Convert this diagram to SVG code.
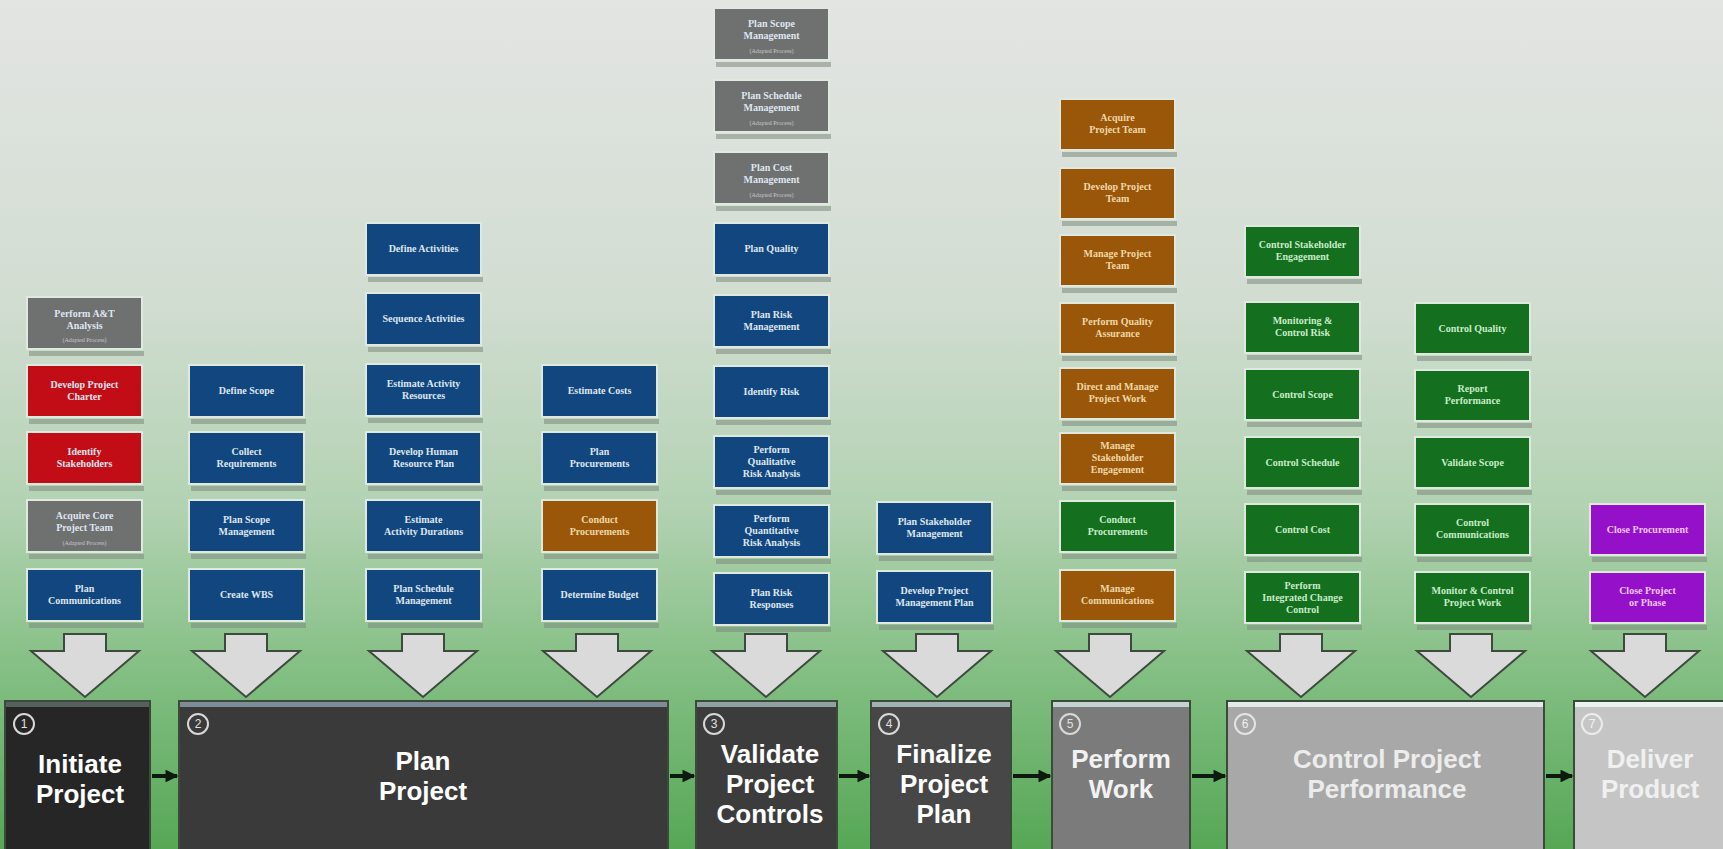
<svg xmlns="http://www.w3.org/2000/svg" width="1723" height="849" viewBox="0 0 1723 849">
<defs>
<linearGradient id="bg" x1="0" y1="0" x2="0" y2="1">
<stop offset="0" stop-color="#e3e5e3"/>
<stop offset="0.35" stop-color="#d2ddd2"/>
<stop offset="0.6" stop-color="#b2d2b2"/>
<stop offset="0.78" stop-color="#86c086"/>
<stop offset="1" stop-color="#56a756"/>
</linearGradient>
<path id="bigarrow" d="M -21 634 L 21 634 L 21 651 L 54 651 L 0 697 L -54 651 L -21 651 Z"/>
<marker id="ah" viewBox="0 0 10 10" refX="9" refY="5" markerWidth="3.2" markerHeight="3.2" orient="auto">
<path d="M0 0 L10 5 L0 10 Z" fill="#0d1a0d"/>
</marker>
</defs>
<style>
.b{stroke:#dfe9df;stroke-width:2}
.sh{fill:#7e8a7e;opacity:0.55}
.blue{fill:#12467f}
.red{fill:#c30d16}
.gray{fill:#6f7070}
.brown{fill:#9a5709}
.green{fill:#146f1f}
.purple{fill:#9410c9}
.t{font-family:"Liberation Serif",serif;font-weight:bold;font-size:10px;fill:#dfe6f0;text-anchor:middle}
.s{font-family:"Liberation Serif",serif;font-size:6px;fill:#c8c8c8;text-anchor:middle}
.ph{stroke:#3c4a3c;stroke-width:2}
.pt{font-family:"Liberation Sans",Arial,sans-serif;font-weight:bold;font-size:26px;fill:#ffffff;text-anchor:middle}
.nc{fill:none;stroke:#d8d8d8;stroke-width:2}
.nt{font-family:"Liberation Sans",Arial,sans-serif;font-size:12px;fill:#e0e0e0;text-anchor:middle}
.ba{fill:#dadada;stroke:#3e4a3e;stroke-width:2}
.ca{stroke:#0d1a0d;stroke-width:4;marker-end:url(#ah)}
</style>
<rect x="0" y="0" width="1723" height="849" fill="url(#bg)"/>

<!-- Column 1 -->
<g id="c1-perform-at-analysis"><rect class="sh" x="29" y="351" width="115" height="5"/><rect class="b gray" x="27" y="297" width="115" height="52"/><text class="t" x="84.5" y="317">Perform A&amp;T<tspan x="84.5" dy="12">Analysis</tspan></text><text class="s" x="84.5" y="342">(Adapted Process)</text></g>
<g id="c1-develop-project-charter"><rect class="sh" x="29" y="419" width="115" height="5"/><rect class="b red" x="27" y="365" width="115" height="52"/><text class="t" x="84.5" y="388">Develop Project<tspan x="84.5" dy="12">Charter</tspan></text></g>
<g id="c1-identify-stakeholders"><rect class="sh" x="29" y="486" width="115" height="5"/><rect class="b red" x="27" y="432" width="115" height="52"/><text class="t" x="84.5" y="455">Identify<tspan x="84.5" dy="12">Stakeholders</tspan></text></g>
<g id="c1-acquire-core-team"><rect class="sh" x="29" y="554" width="115" height="5"/><rect class="b gray" x="27" y="500" width="115" height="52"/><text class="t" x="84.5" y="519">Acquire Core<tspan x="84.5" dy="12">Project Team</tspan></text><text class="s" x="84.5" y="545">(Adapted Process)</text></g>
<g id="c1-plan-communications"><rect class="sh" x="29" y="623" width="115" height="5"/><rect class="b blue" x="27" y="569" width="115" height="52"/><text class="t" x="84.5" y="592">Plan<tspan x="84.5" dy="12">Communications</tspan></text></g>

<!-- Column 2 -->
<g id="c2-define-scope"><rect class="sh" x="191" y="419" width="115" height="5"/><rect class="b blue" x="189" y="365" width="115" height="52"/><text class="t" x="246.5" y="394">Define Scope</text></g>
<g id="c2-collect-requirements"><rect class="sh" x="191" y="486" width="115" height="5"/><rect class="b blue" x="189" y="432" width="115" height="52"/><text class="t" x="246.5" y="455">Collect<tspan x="246.5" dy="12">Requirements</tspan></text></g>
<g id="c2-plan-scope-management"><rect class="sh" x="191" y="554" width="115" height="5"/><rect class="b blue" x="189" y="500" width="115" height="52"/><text class="t" x="246.5" y="523">Plan Scope<tspan x="246.5" dy="12">Management</tspan></text></g>
<g id="c2-create-wbs"><rect class="sh" x="191" y="623" width="115" height="5"/><rect class="b blue" x="189" y="569" width="115" height="52"/><text class="t" x="246.5" y="598">Create WBS</text></g>

<!-- Column 3 -->
<g id="c3-define-activities"><rect class="sh" x="368" y="277" width="115" height="5"/><rect class="b blue" x="366" y="223" width="115" height="52"/><text class="t" x="423.5" y="252">Define Activities</text></g>
<g id="c3-sequence-activities"><rect class="sh" x="368" y="347" width="115" height="5"/><rect class="b blue" x="366" y="293" width="115" height="52"/><text class="t" x="423.5" y="322">Sequence Activities</text></g>
<g id="c3-estimate-activity-resources"><rect class="sh" x="368" y="418" width="115" height="5"/><rect class="b blue" x="366" y="364" width="115" height="52"/><text class="t" x="423.5" y="387">Estimate Activity<tspan x="423.5" dy="12">Resources</tspan></text></g>
<g id="c3-develop-hr-plan"><rect class="sh" x="368" y="486" width="115" height="5"/><rect class="b blue" x="366" y="432" width="115" height="52"/><text class="t" x="423.5" y="455">Develop Human<tspan x="423.5" dy="12">Resource Plan</tspan></text></g>
<g id="c3-estimate-activity-durations"><rect class="sh" x="368" y="554" width="115" height="5"/><rect class="b blue" x="366" y="500" width="115" height="52"/><text class="t" x="423.5" y="523">Estimate<tspan x="423.5" dy="12">Activity Durations</tspan></text></g>
<g id="c3-plan-schedule-management"><rect class="sh" x="368" y="623" width="115" height="5"/><rect class="b blue" x="366" y="569" width="115" height="52"/><text class="t" x="423.5" y="592">Plan Schedule<tspan x="423.5" dy="12">Management</tspan></text></g>

<!-- Column 4 -->
<g id="c4-estimate-costs"><rect class="sh" x="544" y="419" width="115" height="5"/><rect class="b blue" x="542" y="365" width="115" height="52"/><text class="t" x="599.5" y="394">Estimate Costs</text></g>
<g id="c4-plan-procurements"><rect class="sh" x="544" y="486" width="115" height="5"/><rect class="b blue" x="542" y="432" width="115" height="52"/><text class="t" x="599.5" y="455">Plan<tspan x="599.5" dy="12">Procurements</tspan></text></g>
<g id="c4-conduct-procurements"><rect class="sh" x="544" y="554" width="115" height="5"/><rect class="b brown" x="542" y="500" width="115" height="52"/><text class="t" x="599.5" y="523" style="fill:#f0d8a8">Conduct<tspan x="599.5" dy="12">Procurements</tspan></text></g>
<g id="c4-determine-budget"><rect class="sh" x="544" y="623" width="115" height="5"/><rect class="b blue" x="542" y="569" width="115" height="52"/><text class="t" x="599.5" y="598">Determine Budget</text></g>

<!-- Column 5 -->
<g id="c5-plan-scope-management"><rect class="sh" x="716" y="62" width="115" height="5"/><rect class="b gray" x="714" y="8" width="115" height="52"/><text class="t" x="771.5" y="27">Plan Scope<tspan x="771.5" dy="12">Management</tspan></text><text class="s" x="771.5" y="53">(Adapted Process)</text></g>
<g id="c5-plan-schedule-management"><rect class="sh" x="716" y="134" width="115" height="5"/><rect class="b gray" x="714" y="80" width="115" height="52"/><text class="t" x="771.5" y="99">Plan Schedule<tspan x="771.5" dy="12">Management</tspan></text><text class="s" x="771.5" y="125">(Adapted Process)</text></g>
<g id="c5-plan-cost-management"><rect class="sh" x="716" y="206" width="115" height="5"/><rect class="b gray" x="714" y="152" width="115" height="52"/><text class="t" x="771.5" y="171">Plan Cost<tspan x="771.5" dy="12">Management</tspan></text><text class="s" x="771.5" y="197">(Adapted Process)</text></g>
<g id="c5-plan-quality"><rect class="sh" x="716" y="277" width="115" height="5"/><rect class="b blue" x="714" y="223" width="115" height="52"/><text class="t" x="771.5" y="252">Plan Quality</text></g>
<g id="c5-plan-risk-management"><rect class="sh" x="716" y="349" width="115" height="5"/><rect class="b blue" x="714" y="295" width="115" height="52"/><text class="t" x="771.5" y="318">Plan Risk<tspan x="771.5" dy="12">Management</tspan></text></g>
<g id="c5-identify-risk"><rect class="sh" x="716" y="420" width="115" height="5"/><rect class="b blue" x="714" y="366" width="115" height="52"/><text class="t" x="771.5" y="395">Identify Risk</text></g>
<g id="c5-qualitative-risk"><rect class="sh" x="716" y="490" width="115" height="5"/><rect class="b blue" x="714" y="436" width="115" height="52"/><text class="t" x="771.5" y="453">Perform<tspan x="771.5" dy="12">Qualitative</tspan><tspan x="771.5" dy="12">Risk Analysis</tspan></text></g>
<g id="c5-quantitative-risk"><rect class="sh" x="716" y="559" width="115" height="5"/><rect class="b blue" x="714" y="505" width="115" height="52"/><text class="t" x="771.5" y="522">Perform<tspan x="771.5" dy="12">Quantitative</tspan><tspan x="771.5" dy="12">Risk Analysis</tspan></text></g>
<g id="c5-plan-risk-responses"><rect class="sh" x="716" y="627" width="115" height="5"/><rect class="b blue" x="714" y="573" width="115" height="52"/><text class="t" x="771.5" y="596">Plan Risk<tspan x="771.5" dy="12">Responses</tspan></text></g>

<!-- Column 6 -->
<g id="c6-plan-stakeholder-management"><rect class="sh" x="879" y="556" width="115" height="5"/><rect class="b blue" x="877" y="502" width="115" height="52"/><text class="t" x="934.5" y="525">Plan Stakeholder<tspan x="934.5" dy="12">Management</tspan></text></g>
<g id="c6-develop-pm-plan"><rect class="sh" x="879" y="625" width="115" height="5"/><rect class="b blue" x="877" y="571" width="115" height="52"/><text class="t" x="934.5" y="594">Develop Project<tspan x="934.5" dy="12">Management Plan</tspan></text></g>

<!-- Column 7 -->
<g id="c7-acquire-project-team"><rect class="sh" x="1062" y="152" width="115" height="5"/><rect class="b brown" x="1060" y="99" width="115" height="51"/><text class="t" x="1117.5" y="121" style="fill:#f0d8a8">Acquire<tspan x="1117.5" dy="12">Project Team</tspan></text></g>
<g id="c7-develop-project-team"><rect class="sh" x="1062" y="221" width="115" height="5"/><rect class="b brown" x="1060" y="168" width="115" height="51"/><text class="t" x="1117.5" y="190" style="fill:#f0d8a8">Develop Project<tspan x="1117.5" dy="12">Team</tspan></text></g>
<g id="c7-manage-project-team"><rect class="sh" x="1062" y="288" width="115" height="5"/><rect class="b brown" x="1060" y="235" width="115" height="51"/><text class="t" x="1117.5" y="257" style="fill:#f0d8a8">Manage Project<tspan x="1117.5" dy="12">Team</tspan></text></g>
<g id="c7-perform-qa"><rect class="sh" x="1062" y="356" width="115" height="5"/><rect class="b brown" x="1060" y="303" width="115" height="51"/><text class="t" x="1117.5" y="325" style="fill:#f0d8a8">Perform Quality<tspan x="1117.5" dy="12">Assurance</tspan></text></g>
<g id="c7-direct-manage-work"><rect class="sh" x="1062" y="421" width="115" height="5"/><rect class="b brown" x="1060" y="368" width="115" height="51"/><text class="t" x="1117.5" y="390" style="fill:#f0d8a8">Direct and Manage<tspan x="1117.5" dy="12">Project Work</tspan></text></g>
<g id="c7-manage-stakeholder-engagement"><rect class="sh" x="1062" y="486" width="115" height="5"/><rect class="b brown" x="1060" y="433" width="115" height="51"/><text class="t" x="1117.5" y="449" style="fill:#f0d8a8">Manage<tspan x="1117.5" dy="12">Stakeholder</tspan><tspan x="1117.5" dy="12">Engagement</tspan></text></g>
<g id="c7-conduct-procurements"><rect class="sh" x="1062" y="554" width="115" height="5"/><rect class="b green" x="1060" y="501" width="115" height="51"/><text class="t" x="1117.5" y="523" style="fill:#c8ecc8">Conduct<tspan x="1117.5" dy="12">Procurements</tspan></text></g>
<g id="c7-manage-communications"><rect class="sh" x="1062" y="623" width="115" height="5"/><rect class="b brown" x="1060" y="570" width="115" height="51"/><text class="t" x="1117.5" y="592" style="fill:#f0d8a8">Manage<tspan x="1117.5" dy="12">Communications</tspan></text></g>

<!-- Column 8 -->
<g id="c8-control-stakeholder-engagement"><rect class="sh" x="1247" y="279" width="115" height="5"/><rect class="b green" x="1245" y="226" width="115" height="51"/><text class="t" x="1302.5" y="248" style="fill:#c8ecc8">Control Stakeholder<tspan x="1302.5" dy="12">Engagement</tspan></text></g>
<g id="c8-monitor-control-risk"><rect class="sh" x="1247" y="355" width="115" height="5"/><rect class="b green" x="1245" y="302" width="115" height="51"/><text class="t" x="1302.5" y="324" style="fill:#c8ecc8">Monitoring &amp;<tspan x="1302.5" dy="12">Control Risk</tspan></text></g>
<g id="c8-control-scope"><rect class="sh" x="1247" y="422" width="115" height="5"/><rect class="b green" x="1245" y="369" width="115" height="51"/><text class="t" x="1302.5" y="398" style="fill:#c8ecc8">Control Scope</text></g>
<g id="c8-control-schedule"><rect class="sh" x="1247" y="490" width="115" height="5"/><rect class="b green" x="1245" y="437" width="115" height="51"/><text class="t" x="1302.5" y="466" style="fill:#c8ecc8">Control Schedule</text></g>
<g id="c8-control-cost"><rect class="sh" x="1247" y="557" width="115" height="5"/><rect class="b green" x="1245" y="504" width="115" height="51"/><text class="t" x="1302.5" y="533" style="fill:#c8ecc8">Control Cost</text></g>
<g id="c8-integrated-change-control"><rect class="sh" x="1247" y="625" width="115" height="5"/><rect class="b green" x="1245" y="572" width="115" height="51"/><text class="t" x="1302.5" y="589" style="fill:#c8ecc8">Perform<tspan x="1302.5" dy="12">Integrated Change</tspan><tspan x="1302.5" dy="12">Control</tspan></text></g>

<!-- Column 9 -->
<g id="c9-control-quality"><rect class="sh" x="1417" y="356" width="115" height="5"/><rect class="b green" x="1415" y="303" width="115" height="51"/><text class="t" x="1472.5" y="332" style="fill:#c8ecc8">Control Quality</text></g>
<g id="c9-report-performance"><rect class="sh" x="1417" y="423" width="115" height="5"/><rect class="b green" x="1415" y="370" width="115" height="51"/><text class="t" x="1472.5" y="392" style="fill:#c8ecc8">Report<tspan x="1472.5" dy="12">Performance</tspan></text></g>
<g id="c9-validate-scope"><rect class="sh" x="1417" y="490" width="115" height="5"/><rect class="b green" x="1415" y="437" width="115" height="51"/><text class="t" x="1472.5" y="466" style="fill:#c8ecc8">Validate Scope</text></g>
<g id="c9-control-communications"><rect class="sh" x="1417" y="557" width="115" height="5"/><rect class="b green" x="1415" y="504" width="115" height="51"/><text class="t" x="1472.5" y="526" style="fill:#c8ecc8">Control<tspan x="1472.5" dy="12">Communications</tspan></text></g>
<g id="c9-monitor-control-work"><rect class="sh" x="1417" y="625" width="115" height="5"/><rect class="b green" x="1415" y="572" width="115" height="51"/><text class="t" x="1472.5" y="594" style="fill:#c8ecc8">Monitor &amp; Control<tspan x="1472.5" dy="12">Project Work</tspan></text></g>

<!-- Column 10 -->
<g id="c10-close-procurement"><rect class="sh" x="1592" y="557" width="115" height="5"/><rect class="b purple" x="1590" y="504" width="115" height="51"/><text class="t" x="1647.5" y="533" style="fill:#f0c8ff">Close Procurement</text></g>
<g id="c10-close-project-phase"><rect class="sh" x="1592" y="625" width="115" height="5"/><rect class="b purple" x="1590" y="572" width="115" height="51"/><text class="t" x="1647.5" y="594" style="fill:#f0c8ff">Close Project<tspan x="1647.5" dy="12">or Phase</tspan></text></g>

<!-- Phase boxes -->
<g id="phase1-initiate"><rect class="ph" x="5" y="701" width="145" height="150" fill="#262626"/><rect x="6" y="702" width="143" height="5" fill="#56605e"/><circle class="nc" cx="24" cy="724" r="10"/><text class="nt" x="24" y="728">1</text><text class="pt" x="80" y="773">Initiate<tspan x="80" dy="30">Project</tspan></text></g>
<g id="phase2-plan"><rect class="ph" x="179" y="701" width="489" height="150" fill="#3a3a3a"/><rect x="180" y="702" width="487" height="5" fill="#7e8c98"/><circle class="nc" cx="198" cy="724" r="10"/><text class="nt" x="198" y="728">2</text><text class="pt" x="423" y="770">Plan<tspan x="423" dy="30">Project</tspan></text></g>
<g id="phase3-validate"><rect class="ph" x="696" y="701" width="141" height="150" fill="#3c3c3c"/><rect x="697" y="702" width="139" height="5" fill="#8ea2a2"/><circle class="nc" cx="714" cy="724" r="10"/><text class="nt" x="714" y="728">3</text><text class="pt" x="770" y="763">Validate<tspan x="770" dy="30">Project</tspan><tspan x="770" dy="30">Controls</tspan></text></g>
<g id="phase4-finalize"><rect class="ph" x="871" y="701" width="140" height="150" fill="#474747"/><rect x="872" y="702" width="138" height="5" fill="#a2b2b2"/><circle class="nc" cx="889" cy="724" r="10"/><text class="nt" x="889" y="728">4</text><text class="pt" x="944" y="763">Finalize<tspan x="944" dy="30">Project</tspan><tspan x="944" dy="30">Plan</tspan></text></g>
<g id="phase5-perform"><rect class="ph" x="1052" y="701" width="138" height="150" fill="#7b7b7b"/><rect x="1053" y="702" width="136" height="5" fill="#c4d2d2"/><circle class="nc" cx="1070" cy="724" r="10"/><text class="nt" x="1070" y="728">5</text><text class="pt" x="1121" y="768" style="fill:#f2f2f2">Perform<tspan x="1121" dy="30">Work</tspan></text></g>
<g id="phase6-control"><rect class="ph" x="1227" y="701" width="317" height="150" fill="#a8a8a8"/><rect x="1228" y="702" width="315" height="5" fill="#e2eaea"/><circle class="nc" cx="1245" cy="724" r="10" style="stroke:#e4e4e4"/><text class="nt" x="1245" y="728" style="fill:#f0f0f0">6</text><text class="pt" x="1387" y="768" style="fill:#ececec">Control Project<tspan x="1387" dy="30">Performance</tspan></text></g>
<g id="phase7-deliver"><rect class="ph" x="1574" y="701" width="152" height="150" fill="#c5c5c5"/><rect x="1575" y="702" width="150" height="5" fill="#eaf2f2"/><circle class="nc" cx="1592" cy="724" r="10" style="stroke:#ececec"/><text class="nt" x="1592" y="728" style="fill:#f4f4f4">7</text><text class="pt" x="1650" y="768" style="fill:#f0f0f0">Deliver<tspan x="1650" dy="30">Product</tspan></text></g>

<!-- Connectors -->
<g id="connectors">
<use href="#bigarrow" class="ba" x="85" y="0"/>
<use href="#bigarrow" class="ba" x="246" y="0"/>
<use href="#bigarrow" class="ba" x="423" y="0"/>
<use href="#bigarrow" class="ba" x="597" y="0"/>
<use href="#bigarrow" class="ba" x="766" y="0"/>
<use href="#bigarrow" class="ba" x="937" y="0"/>
<use href="#bigarrow" class="ba" x="1110" y="0"/>
<use href="#bigarrow" class="ba" x="1301" y="0"/>
<use href="#bigarrow" class="ba" x="1471" y="0"/>
<use href="#bigarrow" class="ba" x="1645" y="0"/>
<line class="ca" x1="152" y1="776" x2="177" y2="776"/>
<line class="ca" x1="670" y1="776" x2="694" y2="776"/>
<line class="ca" x1="839" y1="776" x2="869" y2="776"/>
<line class="ca" x1="1013" y1="776" x2="1050" y2="776"/>
<line class="ca" x1="1192" y1="776" x2="1225" y2="776"/>
<line class="ca" x1="1546" y1="776" x2="1572" y2="776"/>
</g>
</svg>
